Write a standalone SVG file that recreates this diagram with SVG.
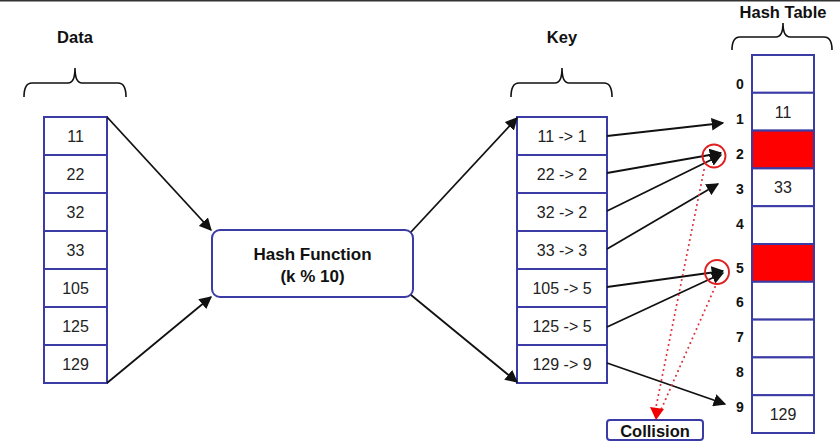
<svg xmlns="http://www.w3.org/2000/svg" width="840" height="447" viewBox="0 0 840 447">
<defs>
<style>
.cell{fill:#fff;stroke:#3b3ba6;stroke-width:2}
.red{fill:#ff0000;stroke:#3b3ba6;stroke-width:2}
.num{font-family:"Liberation Sans",Arial,sans-serif;font-size:16px;fill:#222;text-anchor:middle}
.lbl{font-family:"Liberation Sans",Arial,sans-serif;font-size:16.5px;font-weight:bold;fill:#111;text-anchor:middle}
.idx{font-family:"Liberation Sans",Arial,sans-serif;font-size:14px;font-weight:bold;fill:#111;text-anchor:middle}
.brace{fill:none;stroke:#111;stroke-width:1.6}
.arr{fill:none;stroke:#111;stroke-width:1.8;marker-end:url(#ah)}
.dot{fill:none;stroke:#e0303a;stroke-width:2;stroke-dasharray:0.1 5;stroke-linecap:round}
.circ{fill:none;stroke:#e02020;stroke-width:1.9}
</style>
<marker id="ah" viewBox="0 0 10 10" refX="9" refY="5" markerWidth="7" markerHeight="7" orient="auto" markerUnits="strokeWidth">
<path d="M0,0 L10,5 L0,10 z" fill="#111"/>
</marker>
</defs>
<rect width="840" height="447" fill="#fff"/>
<line x1="0" y1="0.8" x2="840" y2="0.8" stroke="#333" stroke-width="1.6"/>

<g id="data-label">
<text class="lbl" x="75" y="43">Data</text>
<path class="brace" d="M24,97 Q24,83 32,83 L68,83 Q75,83 75,68 Q75,83 82,83 L118,83 Q126,83 126,97"/>
</g>
<g id="data">
<rect class="cell" x="44" y="117" width="63" height="38"/>
<rect class="cell" x="44" y="155" width="63" height="38"/>
<rect class="cell" x="44" y="193" width="63" height="38"/>
<rect class="cell" x="44" y="231" width="63" height="38"/>
<rect class="cell" x="44" y="269" width="63" height="38"/>
<rect class="cell" x="44" y="307" width="63" height="38"/>
<rect class="cell" x="44" y="345" width="63" height="38"/>
<text class="num" x="75.5" y="142">11</text>
<text class="num" x="75.5" y="180">22</text>
<text class="num" x="75.5" y="218">32</text>
<text class="num" x="75.5" y="256">33</text>
<text class="num" x="75.5" y="294">105</text>
<text class="num" x="75.5" y="332">125</text>
<text class="num" x="75.5" y="370">129</text>
</g>

<g id="hash-function">
<rect class="cell" x="212" y="230" width="201" height="67" rx="8"/>
<text class="lbl" style="font-size:17px" x="312.5" y="260">Hash Function</text>
<text class="lbl" style="font-size:17px" x="312.5" y="282">(k % 10)</text>
</g>

<g id="key-label">
<text class="lbl" x="562" y="43">Key</text>
<path class="brace" d="M511,97 Q511,83 519,83 L555,83 Q562,83 562,68 Q562,83 569,83 L604,83 Q612,83 612,97"/>
</g>
<g id="key">
<rect class="cell" x="517" y="117" width="90" height="38"/>
<rect class="cell" x="517" y="155" width="90" height="38"/>
<rect class="cell" x="517" y="193" width="90" height="38"/>
<rect class="cell" x="517" y="231" width="90" height="38"/>
<rect class="cell" x="517" y="269" width="90" height="38"/>
<rect class="cell" x="517" y="307" width="90" height="38"/>
<rect class="cell" x="517" y="345" width="90" height="38"/>
<text class="num" x="562" y="142">11 -&gt; 1</text>
<text class="num" x="562" y="180">22 -&gt; 2</text>
<text class="num" x="562" y="218">32 -&gt; 2</text>
<text class="num" x="562" y="256">33 -&gt; 3</text>
<text class="num" x="562" y="294">105 -&gt; 5</text>
<text class="num" x="562" y="332">125 -&gt; 5</text>
<text class="num" x="562" y="370">129 -&gt; 9</text>
</g>

<g id="hash-table-label">
<text class="lbl" x="783" y="18">Hash Table</text>
<path class="brace" d="M732,50 Q732,37 740,37 L776,37 Q783,37 783,23 Q783,37 790,37 L824,37 Q832,37 832,50"/>
</g>
<g id="hash-table">
<rect class="cell" x="752" y="55" width="62" height="37.8"/>
<rect class="cell" x="752" y="92.8" width="62" height="37.8"/>
<rect class="red" x="752" y="130.6" width="62" height="37.8"/>
<rect class="cell" x="752" y="168.4" width="62" height="37.8"/>
<rect class="cell" x="752" y="206.2" width="62" height="37.8"/>
<rect class="red" x="752" y="244" width="62" height="37.8"/>
<rect class="cell" x="752" y="281.8" width="62" height="37.8"/>
<rect class="cell" x="752" y="319.6" width="62" height="37.8"/>
<rect class="cell" x="752" y="357.4" width="62" height="37.8"/>
<rect class="cell" x="752" y="395.2" width="62" height="37.8"/>
<text class="num" x="783" y="118">11</text>
<text class="num" x="783" y="193">33</text>
<text class="num" x="783" y="420">129</text>
<text class="idx" x="740" y="89">0</text>
<text class="idx" x="740" y="124">1</text>
<text class="idx" x="740" y="159">2</text>
<text class="idx" x="740" y="194">3</text>
<text class="idx" x="740" y="229">4</text>
<text class="idx" x="740" y="273">5</text>
<text class="idx" x="740" y="307">6</text>
<text class="idx" x="740" y="342">7</text>
<text class="idx" x="740" y="377">8</text>
<text class="idx" x="740" y="412">9</text>
</g>

<g id="collision">
<rect class="cell" x="607" y="420" width="96" height="20" rx="3"/>
<text class="lbl" x="655" y="437">Collision</text>
</g>

<g id="connectors">
<line class="arr" x1="107" y1="117" x2="211" y2="230"/>
<line class="arr" x1="107" y1="383" x2="211" y2="297"/>
<line class="arr" x1="411" y1="232" x2="517" y2="118"/>
<line class="arr" x1="411" y1="295" x2="517" y2="382"/>
<line class="arr" x1="607" y1="136" x2="723" y2="123"/>
<line class="arr" x1="607" y1="173" x2="721" y2="153"/>
<line class="arr" x1="607" y1="211" x2="721" y2="155"/>
<line class="arr" x1="607" y1="249" x2="718" y2="184"/>
<line class="arr" x1="607" y1="287" x2="723" y2="271"/>
<line class="arr" x1="607" y1="327" x2="723" y2="273"/>
<line class="arr" x1="607" y1="363" x2="725" y2="404"/>
<circle class="circ" cx="714" cy="156" r="11.5"/>
<circle class="circ" cx="717" cy="272" r="12"/>
<line class="dot" x1="704" y1="170" x2="655" y2="412"/>
<line class="dot" x1="715" y1="287" x2="660" y2="412"/>
<path d="M650,407 L664,409 L656,420 z" fill="#f00000"/>
</g>
</svg>
